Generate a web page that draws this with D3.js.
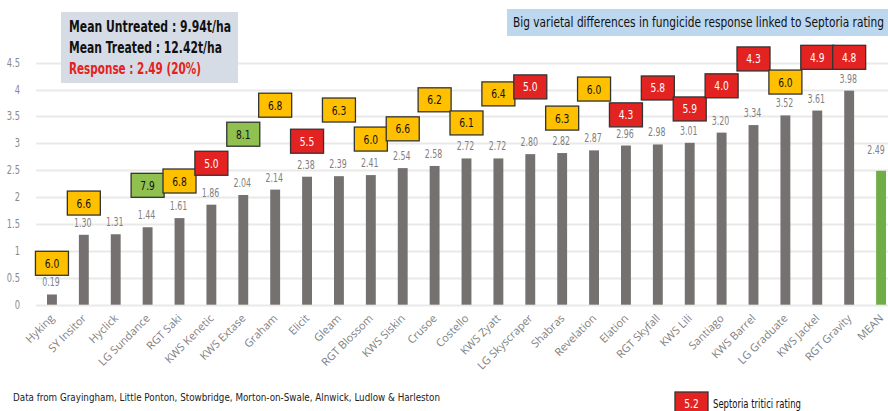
<!DOCTYPE html>
<html>
<head>
<meta charset="utf-8">
<script src="https://cdn.jsdelivr.net/npm/d3@7"></script>
<style>
  body { margin: 0; background: #fff; }
  svg { display: block; font-family: "DejaVu Sans Condensed", "DejaVu Sans", sans-serif; }
</style>
</head>
<body>
<div id="chart"></div>
<script>
// varieties, response t/ha, septoria rating
var varieties = ["Hyking", "SY Insitor", "Hyclick", "LG Sundance", "RGT Saki", "KWS Kenetic",
  "KWS Extase", "Graham", "Elicit", "Gleam", "RGT Blossom", "KWS Siskin", "Crusoe", "Costello",
  "KWS Zyatt", "LG Skyscraper", "Shabras", "Revelation", "Elation", "RGT Skyfall", "KWS Lili",
  "Santiago", "KWS Barrel", "LG Graduate", "KWS Jackel", "RGT Gravity", "MEAN"];
var response = [0.19, 1.30, 1.31, 1.44, 1.61, 1.86, 2.04, 2.14, 2.38, 2.39, 2.41, 2.54, 2.58, 2.72,
  2.72, 2.80, 2.82, 2.87, 2.96, 2.98, 3.01, 3.20, 3.34, 3.52, 3.61, 3.98, 2.49];
var septoria = [6.0, 6.6, null, 7.9, 6.8, 5.0, 8.1, 6.8, 5.5, 6.3, 6.0, 6.6, 6.2, 6.1, 6.4, 5.0,
  6.3, 6.0, 4.3, 5.8, 5.9, 4.0, 4.3, 6.0, 4.9, 4.8, null];
// where each rating box sits, on the response axis
var ratingY = [0.77, 1.89, null, 2.22, 2.30, 2.63, 3.17, 3.71, 3.04, 3.62, 3.08, 3.27, 3.81, 3.38,
  3.92, 4.05, 3.47, 4.01, 3.53, 4.03, 3.64, 4.07, 4.57, 4.14, 4.60, 4.60, null];
var yTicks = [0, 0.5, 1, 1.5, 2, 2.5, 3, 3.5, 4, 4.5];

var width = 888, height = 411;

// squeeze text so it looks like a condensed face
function squeeze(sel, f) {
    sel.each(function () {
        var len = this.getComputedTextLength();
        this.setAttribute("textLength", len * f);
        this.setAttribute("lengthAdjust", "spacingAndGlyphs");
    });
}
function fit(sel, w) {
    sel.attr("textLength", w).attr("lengthAdjust", "spacingAndGlyphs");
}

var svg = d3.select("#chart").append("svg")
    .attr("width", width)
    .attr("height", height);

var x = d3.scaleBand()
    .domain(varieties)
    .range([36, 897])
    .paddingInner(0.69)
    .paddingOuter(0.345);

var y = d3.scaleLinear()
    .domain([0, 4.5])
    .range([304.7, 62.7]);

// gridlines
svg.selectAll(".grid")
    .data(yTicks)
    .enter()
    .append("line")
    .attr("x1", 36)
    .attr("x2", width)
    .attr("y1", function (d) { return Math.round(y(d)) + 0.5; })
    .attr("y2", function (d) { return Math.round(y(d)) + 0.5; })
    .attr("stroke", "#e9e9e9")
    .attr("stroke-width", 2);

var yl = svg.selectAll(".ytick")
    .data(yTicks)
    .enter()
    .append("text")
    .attr("x", 20)
    .attr("y", function (d) { return y(d) + 4; })
    .attr("text-anchor", "end")
    .style("font-size", "11.5px")
    .style("fill", "#8a8a8a")
    .text(function (d) { return d; });
squeeze(yl, 0.8);

// bars
svg.selectAll(".bar")
    .data(varieties)
    .enter()
    .append("rect")
    .attr("x", function (d) { return x(d); })
    .attr("width", x.bandwidth())
    .attr("y", function (d, i) { return y(response[i]); })
    .attr("height", function (d, i) { return y(0) - y(response[i]); })
    .attr("fill", function (d) { return d == "MEAN" ? "#70ad47" : "#767171"; });

var vl = svg.selectAll(".val")
    .data(varieties)
    .enter()
    .append("text")
    .attr("x", function (d) { return x(d) + x.bandwidth() / 2 - (d == "MEAN" ? 5 : 1); })
    .attr("y", function (d, i) { return y(response[i]) - (d == "MEAN" ? 17 : 8); })
    .attr("text-anchor", "middle")
    .style("font-size", "11.5px")
    .style("fill", "#7f7f7f")
    .text(function (d, i) { return response[i].toFixed(2); });
squeeze(vl, 0.76);

// x labels
svg.selectAll(".xlab")
    .data(varieties)
    .enter()
    .append("text")
    .attr("transform", function (d) {
        return "translate(" + (x(d) + x.bandwidth() / 2 + 3) + ",319) rotate(-45)";
    })
    .attr("text-anchor", "end")
    .style("font-family", "'Open Sans', sans-serif")
    .style("font-size", "11px")
    .style("fill", "#7f7f7f")
    .text(function (d) { return d; });

// septoria rating boxes
function boxFill(r) {
    if (r < 6) return "#e32322";
    if (r < 7.5) return "#ffc000";
    return "#8fc050";
}

var boxes = svg.selectAll(".rating")
    .data(varieties.map(function (d, i) { return { name: d, r: septoria[i], at: ratingY[i] }; })
        .filter(function (d) { return d.r != null; }))
    .enter()
    .append("g")
    .attr("transform", function (d) {
        return "translate(" + (x(d.name) + x.bandwidth() / 2) + "," + y(d.at) + ")";
    });

boxes.append("rect")
    .attr("x", -16.5)
    .attr("y", -12)
    .attr("width", 33)
    .attr("height", 24)
    .attr("fill", function (d) { return boxFill(d.r); })
    .attr("stroke", "#333")
    .attr("stroke-width", 1.3);

var bt = boxes.append("text")
    .attr("y", 4.5)
    .attr("text-anchor", "middle")
    .style("font-size", "13px")
    .style("fill", function (d) { return d.r < 6 ? "#fff" : "#111"; })
    .text(function (d) { return d.r.toFixed(1); });
squeeze(bt, 0.78);

// means box
svg.append("rect")
    .attr("x", 61).attr("y", 12)
    .attr("width", 177).attr("height", 71)
    .attr("fill", "#d6dce5");

var info = [
    { t: "Mean Untreated : 9.94t/ha", c: "#111", w: 162 },
    { t: "Mean Treated : 12.42t/ha", c: "#111", w: 153 },
    { t: "Response : 2.49 (20%)", c: "#e32322", w: 132 }
];
var it = svg.selectAll(".info")
    .data(info)
    .enter()
    .append("text")
    .attr("x", 69)
    .attr("y", function (d, i) { return 32 + i * 21; })
    .style("font-size", "15.5px")
    .style("font-weight", "bold")
    .style("fill", function (d) { return d.c; })
    .text(function (d) { return d.t; });
it.each(function (d) { fit(d3.select(this), d.w); });

// title
svg.append("rect")
    .attr("x", 507).attr("y", 9)
    .attr("width", 381).attr("height", 27)
    .attr("fill", "#bdd7ee");
svg.append("text")
    .attr("x", 513).attr("y", 27)
    .style("font-size", "14.5px")
    .style("fill", "#111")
    .text("Big varietal differences in fungicide response linked to Septoria rating")
    .call(fit, 371);

// footer
svg.append("text")
    .attr("x", 13).attr("y", 401)
    .style("font-size", "11px")
    .style("fill", "#222")
    .text("Data from Grayingham, Little Ponton, Stowbridge, Morton-on-Swale, Alnwick, Ludlow & Harleston")
    .call(fit, 427);

// legend
var leg = svg.append("g").attr("transform", "translate(675,392)");
leg.append("rect")
    .attr("width", 33).attr("height", 24)
    .attr("fill", "#e32322")
    .attr("stroke", "#333")
    .attr("stroke-width", 1.3);
leg.append("text")
    .attr("x", 16.5).attr("y", 16)
    .attr("text-anchor", "middle")
    .style("font-size", "13px")
    .style("fill", "#fff")
    .text("5.2")
    .call(squeeze, 0.78);
leg.append("text")
    .attr("x", 38).attr("y", 16)
    .style("font-size", "12.5px")
    .style("fill", "#111")
    .text("Septoria tritici rating")
    .call(fit, 88);
</script>
</body>
</html>
